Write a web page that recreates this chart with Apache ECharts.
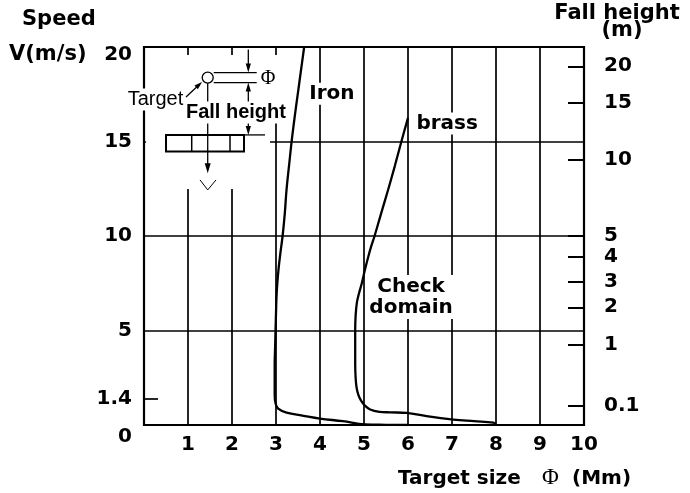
<!DOCTYPE html>
<html><head><meta charset="utf-8">
<script src="https://cdn.jsdelivr.net/npm/echarts@6/dist/echarts.min.js"></script>
<style>html,body{margin:0;padding:0;background:#fff}#c{width:690px;height:493px}</style>
</head><body><div id="c"></div>
<script>
// ---- data ----
const speedTickLabels = [0, 1.4, 5, 10, 15, 20];
const speedMarkTicks = [1.4];
const fallHeightLabels = ['20', '15', '10', '5', '4', '3', '2', '1', '0.1'];
const fallHeightAtSpeed = [18.98, 17.03, 14.05, 9.99, 8.88, 7.56, 6.23, 4.22, 1.03];
const ironCurve = [
  [6.0, 0.0], [5.5, 0.01], [5.02, 0.03], [4.52, 0.2], [4.0, 0.34], [3.6, 0.5], [3.24, 0.65], [3.05, 0.86],
  [2.99, 1.15], [2.97, 1.6], [2.97, 2.4], [2.97, 3.2], [2.98, 4.1], [2.99, 5.05], [3.0, 5.9], [3.01, 6.7],
  [3.03, 7.5], [3.06, 8.3], [3.1, 9.1], [3.15, 10.0], [3.2, 11.2], [3.24, 12.46], [3.3, 13.8], [3.36, 15.1],
  [3.43, 16.4], [3.5, 17.6], [3.57, 18.8], [3.64, 20.0]
];
const brassCurve = [
  [8.0, 0.02], [7.94, 0.12], [7.5, 0.2], [7.03, 0.29], [6.42, 0.47], [5.97, 0.64], [5.6, 0.67], [5.35, 0.7],
  [5.14, 0.82], [5.02, 1.03], [4.93, 1.3], [4.87, 1.61], [4.83, 2.0], [4.81, 2.5], [4.8, 3.2], [4.8, 4.1],
  [4.8, 5.0], [4.81, 5.8], [4.84, 6.5], [4.89, 7.0], [4.95, 7.5], [5.02, 8.2], [5.1, 8.93], [5.17, 9.5],
  [5.24, 10.0], [5.39, 11.2], [5.55, 12.46], [5.7, 13.7], [5.85, 15.0], [6.0, 16.25]
];
const curveNames = ['Iron', 'brass'];

// ---- chart ----
const FS = 20;
const BOLD = 'bold ' + FS + 'px "DejaVu Sans"';
const chart = echarts.init(document.getElementById('c'), null, {renderer: 'canvas'});

function arrowHead(tip, from, len, hw) {
  const dx = tip[0] - from[0], dy = tip[1] - from[1];
  const L = Math.hypot(dx, dy), ux = dx / L, uy = dy / L;
  const bx = tip[0] - ux * len, by = tip[1] - uy * len;
  return {type: 'polygon', shape: {points: [tip, [bx - uy * hw, by + ux * hw], [bx + uy * hw, by - ux * hw]]}, style: {fill: '#000'}};
}
function ln(a, b, w) {
  return {type: 'line', shape: {x1: a[0], y1: a[1], x2: b[0], y2: b[1]}, style: {stroke: '#000', lineWidth: w || 1.3}};
}
function txt(t, p, font, align, bg, lh) {
  const s = {text: t, font: font, fill: '#000', align: align, verticalAlign: 'middle', textAlign: align, textVerticalAlign: 'middle'};
  if (bg) { s.backgroundColor = '#fff'; s.padding = [1, 2]; }
  if (lh) s.lineHeight = lh;
  return {type: 'text', x: p[0], y: p[1], style: s};
}
function gtext(t, x, y, font, align) {
  return {type: 'text', x: x, y: y, style: {text: t, font: font, fill: '#000', align: align, verticalAlign: 'middle', textAlign: align, textVerticalAlign: 'middle'}};
}
const labelFont = {color: '#000', fontFamily: 'DejaVu Sans', fontWeight: 'bold', fontSize: FS};

const option = {
  animation: false,
  backgroundColor: '#fff',
  grid: {left: 144, right: 106, top: 47, bottom: 68, show: true, borderColor: '#000', borderWidth: 2.2, backgroundColor: 'transparent'},
  xAxis: {
    type: 'value', min: 0, max: 10, interval: 1,
    axisLine: {show: false}, axisTick: {show: false},
    splitLine: {show: true, lineStyle: {color: '#000', width: 1.7}},
    axisLabel: Object.assign({margin: 10, formatter: v => (v === 0 ? '' : String(v))}, labelFont)
  },
  yAxis: [
    {type: 'value', min: 0, max: 20, interval: 5, position: 'left',
      axisLine: {show: false}, axisTick: {show: false}, axisLabel: {show: false},
      splitLine: {show: true, lineStyle: {color: '#000', width: 1.7}}},
    {type: 'value', min: 0, max: 20, position: 'left',
      axisLine: {show: false}, splitLine: {show: false},
      axisTick: {show: true, inside: true, length: 14, customValues: speedMarkTicks, lineStyle: {color: '#000', width: 1.7}},
      axisLabel: Object.assign({customValues: speedTickLabels, margin: 12,
        formatter: v => (v === 0 ? '{lo|0}' : v === 20 ? '{hi|20}' : '{n|' + v + '}'),
        rich: {
          n: Object.assign({}, labelFont),
          lo: Object.assign({padding: [23, 0, 0, 0]}, labelFont),
          hi: Object.assign({padding: [15, 0, 0, 0]}, labelFont)
        }}, labelFont)},
    {type: 'value', min: 0, max: 20, position: 'right',
      axisLine: {show: false}, splitLine: {show: false},
      axisTick: {show: true, inside: true, length: 16, customValues: fallHeightAtSpeed, lineStyle: {color: '#000', width: 2}},
      axisLabel: Object.assign({customValues: fallHeightAtSpeed, margin: 20,
        formatter: v => {
          let best = 0;
          fallHeightAtSpeed.forEach((p, i) => { if (Math.abs(p - v) < Math.abs(fallHeightAtSpeed[best] - v)) best = i; });
          return fallHeightLabels[best];
        }}, labelFont)}
  ],
  graphic: [
    gtext('Speed', 22, 20, 'bold 21px "DejaVu Sans"', 'left'),
    gtext('V(m/s)', 9, 55, 'bold 21px "DejaVu Sans"', 'left'),
    gtext('Fall height', 617, 14, 'bold 21px "DejaVu Sans"', 'center'),
    gtext('(m)', 622, 31, 'bold 21px "DejaVu Sans"', 'center'),
    gtext('Target size', 398, 478.5, BOLD, 'left'),
    gtext('Φ', 550.5, 478, '23px "Liberation Serif"', 'center'),
    gtext('(Mm)', 572, 478.5, BOLD, 'left')
  ],
  series: [
    {
      type: 'custom', name: 'diagram', xAxisIndex: 0, yAxisIndex: 0, z: 2, silent: true, clip: false,
      data: [[0, 0]],
      renderItem: function (params, api) {
        const c = api.coord([1.448, 18.38]);
        const X = c[0], Y = c[1];
        const P = (dx, dy) => [X + dx, Y + dy];
        const lab = (t, d, lh) => txt(t, api.coord(d), BOLD, 'center', true, lh);
        return {type: 'group', children: [
          {type: 'rect', shape: {x: X - 61.7, y: Y - 22.7, width: 124, height: 134}, style: {fill: '#fff'}},
          {type: 'rect', shape: {x: X + 62.3, y: Y - 22.7, width: 12, height: 68}, style: {fill: '#fff'}},
          ln(P(6, -5), P(49, -5)), ln(P(6, 5), P(49, 5)),
          ln(P(40.6, -28), P(40.6, -12)), arrowHead(P(40.6, -5), P(40.6, -28), 9, 2.6),
          ln(P(40.6, 12), P(40.6, 50)), arrowHead(P(40.6, 5), P(40.6, 30), 9, 2.6), arrowHead(P(40.6, 57.3), P(40.6, 30), 9, 2.6),
          ln(P(35.3, 57.3), P(57.3, 57.3)),
          {type: 'rect', shape: {x: X - 41.7, y: Y + 57.3, width: 78, height: 16.7}, style: {stroke: '#000', fill: 'none', lineWidth: 2}},
          ln(P(-16, 57.3), P(-16, 74), 1.5), ln(P(22.3, 57.3), P(22.3, 74), 1.5),
          ln(P(0, 5.5), P(0, 88)), arrowHead(P(0, 95.6), P(0, 60), 10, 3),
          {type: 'polyline', shape: {points: [P(-7.7, 102.3), P(0, 112.3), P(8.3, 102.3)]}, style: {stroke: '#000', fill: 'none', lineWidth: 1}},
          {type: 'circle', shape: {cx: X, cy: Y, r: 5.5}, style: {stroke: '#000', fill: '#fff', lineWidth: 1.3}},
          txt('Target', P(-22.5, 21.8), '20px "Liberation Sans"', 'right', true),
          txt('Fall height', P(28.2, 34.8), 'bold 20px "Liberation Sans"', 'center', true),
          ln(P(-21.7, 19.3), P(-10, 8.3)), arrowHead(P(-5.7, 4.3), P(-21.7, 19.3), 8, 2.5),
          txt('Φ', P(60.3, 1.3), '20px "Liberation Serif"', 'center', false),
          lab(curveNames[0], [4.27, 17.52]),
          lab(curveNames[1], [6.89, 15.95]),
          lab('Check\ndomain', [6.07, 6.77], 21)
        ]};
      }
    },
    {type: 'line', name: curveNames[0], data: ironCurve, xAxisIndex: 0, yAxisIndex: 0, z: 3, smooth: 0.4, showSymbol: false, silent: true,
      lineStyle: {color: '#000', width: 2.3}},
    {type: 'line', name: curveNames[1], data: brassCurve, xAxisIndex: 0, yAxisIndex: 0, z: 3, smooth: 0.4, showSymbol: false, silent: true,
      lineStyle: {color: '#000', width: 2.3}}
  ]
};
chart.setOption(option);
</script>
</body></html>
